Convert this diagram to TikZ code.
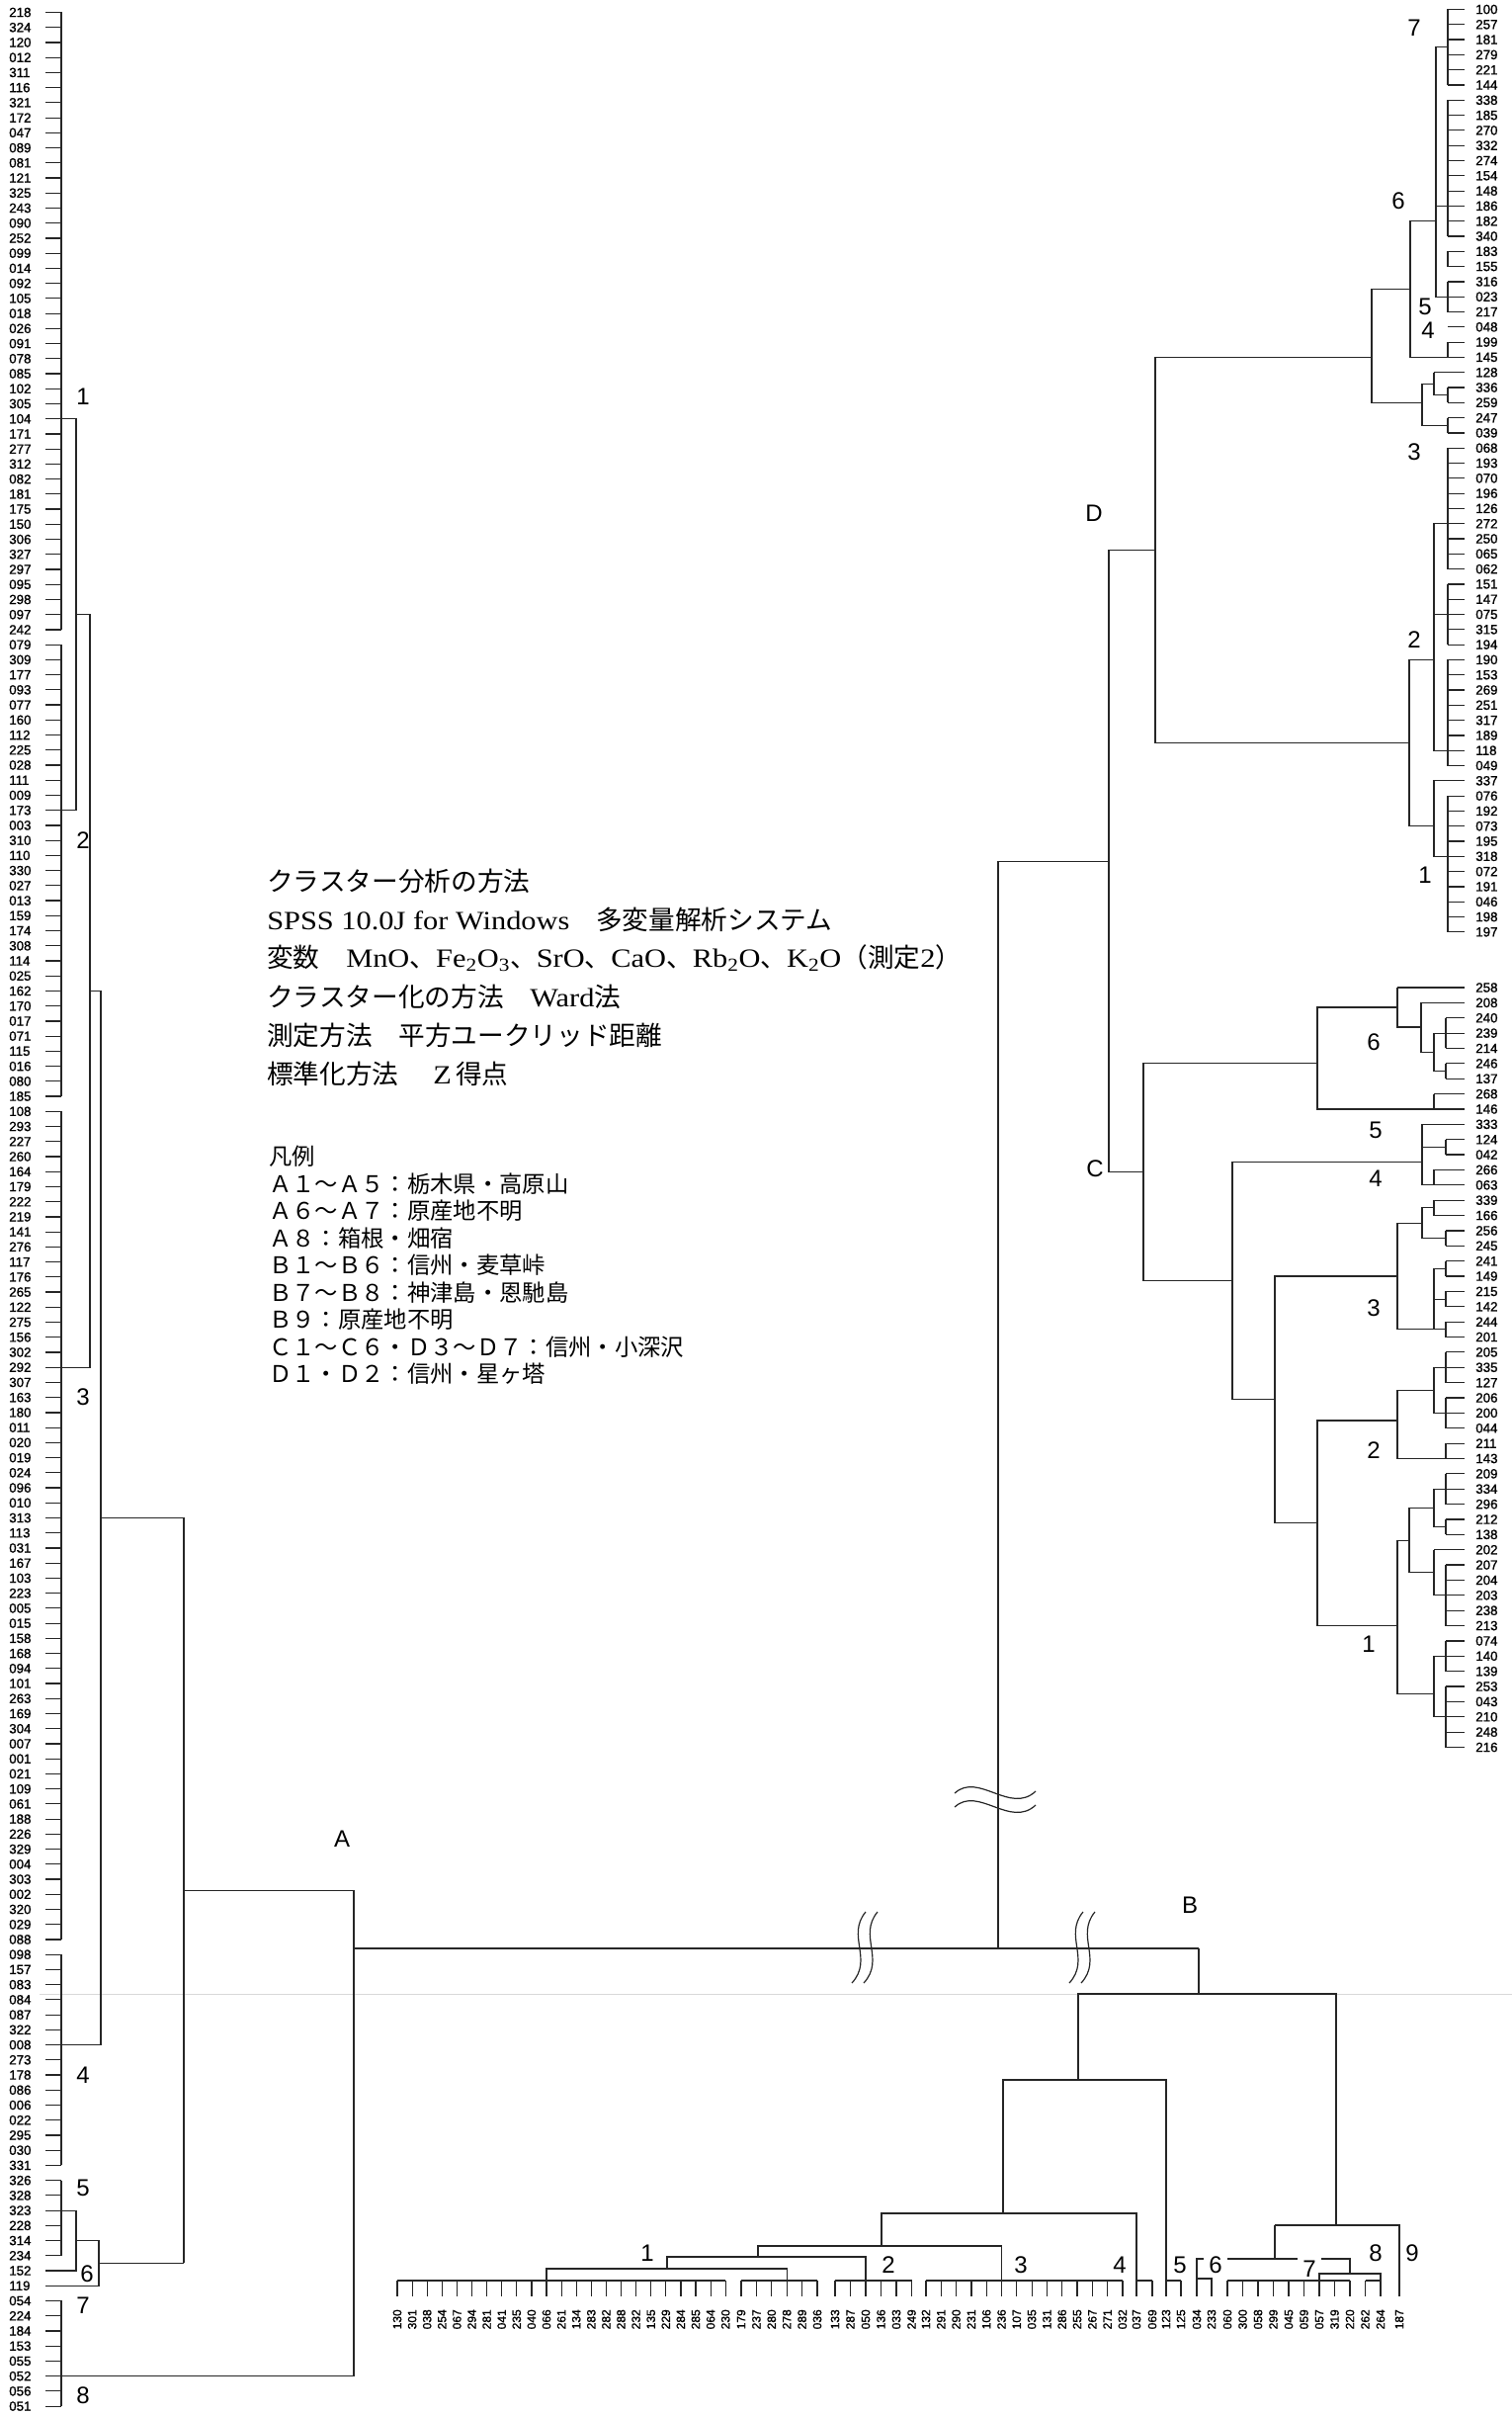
\documentclass[tikz,border=0pt]{standalone}
\usepackage{fontspec}
\setmainfont[FakeStretch=1.14]{Liberation Serif}
\newfontfamily\jp{Noto Sans CJK JP}
\newfontfamily\lsans{Liberation Sans}
\newfontfamily\lsansb[FakeBold=1.2]{Liberation Sans}
\newcommand\botleaves[4]{%
  \foreach \lbl [count=\i from 0] in {#4}{%
    \draw[ln] ({#2+#3*\i},2307) -- ({#2+#3*\i},2323);
    \node[bleaf] (#1\i) at ({#2+#3*\i},2336) {\lbl};
  }}
\begin{document}
\begin{tikzpicture}[x=0.75pt,y=-0.75pt,
  declare function={ly(\r)=12.5+(\r-1)*15.23; dy(\r)=9.5+(\r-1)*15.3; cy(\r)=999+(\r-1)*15.37;},
  ln/.style={line width=0.9pt, black!85},
  leaf/.style={font=\lsansb\fontsize{10}{10}\selectfont, inner sep=0pt, anchor=west},
  bleaf/.style={font=\lsansb\fontsize{9}{9}\selectfont, inner sep=0pt, rotate=90, anchor=east},
  cl/.style={font=\lsans\fontsize{18}{18}\selectfont, inner sep=0pt},
  ttl/.style={font=\fontsize{20}{20}\selectfont, anchor=west, inner sep=0pt},
  lgd/.style={font=\jp\fontsize{17.5}{17.5}\selectfont, anchor=west, inner sep=0pt},
]
\useasboundingbox (0,0) rectangle (1530,2444);
\fill[white] (0,0) rectangle (1530,2444);

% faint fold line
\draw[gray!30, line width=0.6pt] (40,2017) -- (1530,2017);

%================ LEFT COLUMN (A) ================
\foreach \lbl [count=\i] in {218,324,120,012,311,116,321,172,047,089,081,121,325,243,090,252,099,014,092,105,018,026,091,078,085,102,305,104,171,277,312,082,181,175,150,306,327,297,095,298,097,242,079,309,177,093,077,160,112,225,028,111,009,173,003,310,110,330,027,013,159,174,308,114,025,162,170,017,071,115,016,080,185,108,293,227,260,164,179,222,219,141,276,117,176,265,122,275,156,302,292,307,163,180,011,020,019,024,096,010,313,113,031,167,103,223,005,015,158,168,094,101,263,169,304,007,001,021,109,061,188,226,329,004,303,002,320,029,088,098,157,083,084,087,322,008,273,178,086,006,022,295,030,331,326,328,323,228,314,234,152,119,054,224,184,153,055,052,056,051}{
  \node[leaf] (L\i) at (9,{ly(\i)}) {\lbl};
  \draw[ln] (46,{ly(\i)}) -- (62,{ly(\i)});
}
% brackets
\draw[ln] (62,{ly(1)}) -- (62,{ly(42)});
\draw[ln] (62,{ly(43)}) -- (62,{ly(73)});
\draw[ln] (62,{ly(74)}) -- (62,{ly(129)});
\draw[ln] (62,{ly(130)}) -- (62,{ly(144)});
\draw[ln] (62,{ly(145)}) -- (62,{ly(150)});
\draw[ln] (62,{ly(153)}) -- (62,{ly(160)});
% joins
\draw[ln] (62,{ly(28)}) -- (77,{ly(28)}) -- (77,{ly(54)}) -- (62,{ly(54)});
\draw[ln] (77,{ly(41)}) -- (91,{ly(41)}) -- (91,{ly(91)}) -- (62,{ly(91)});
\draw[ln] (91,{ly(66)}) -- (102,{ly(66)}) -- (102,{ly(136)}) -- (62,{ly(136)});
\draw[ln] (102,{ly(101)}) -- (186,{ly(101)}) -- (186,{ly(150.5)});
\draw[ln] (62,{ly(147)}) -- (77,{ly(147)}) -- (77,{ly(151)}) -- (46,{ly(151)});
\draw[ln] (77,{ly(149)}) -- (100,{ly(149)}) -- (100,{ly(152)}) -- (46,{ly(152)});
\draw[ln] (100,{ly(150.5)}) -- (186,{ly(150.5)});
\draw[ln] (186,{ly(125.75)}) -- (358,{ly(125.75)}) -- (358,{ly(158)}) -- (62,{ly(158)});
% cluster labels
\node[cl] (l1) at (84,{ly(26.5)}) {1};
\node[cl] (l2) at (84,{ly(56)}) {2};
\node[cl] (l3) at (84,{ly(93)}) {3};
\node[cl] (l4) at (84,{ly(138)}) {4};
\node[cl] (l5) at (84,{ly(145.5)}) {5};
\node[cl] (l6) at (88,{ly(151.2)}) {6};
\node[cl] (l7) at (84,{ly(153.3)}) {7};
\node[cl] (l8) at (84,{ly(159.3)}) {8};
\node[cl] (cA) at (346,1860) {A};

% main horizontal
\draw[ln] (358,1971) -- (1213,1971);
% breaks
\foreach \bx in {872,1092}{
  \draw[ln] (\bx+4,1934) .. controls (\bx-16,1958) and (\bx+12,1982) .. (\bx-10,2006);
  \draw[ln] (\bx+16,1934) .. controls (\bx-4,1958) and (\bx+24,1982) .. (\bx+2,2006);
}

%================ D / C ================
\draw[ln] (1010,1971) -- (1010,871.5) -- (1122,871.5);
\draw[ln] (966,1814) .. controls (990,1792) and (1022,1836) .. (1048,1812);
\draw[ln] (966,1828) .. controls (990,1806) and (1022,1850) .. (1048,1826);
\draw[ln] (1122,{dy(36.75)}) -- (1122,{cy(13.15)}) -- (1157,{cy(13.15)});
\draw[ln] (1122,{dy(36.75)}) -- (1169,{dy(36.75)});
\node[cl] (cD) at (1107,519) {D};
\node[cl] (cC) at (1108,1182) {C};

% D leaves
\foreach \lbl [count=\i] in {100,257,181,279,221,144,338,185,270,332,274,154,148,186,182,340,183,155,316,023,217,048,199,145,128,336,259,247,039,068,193,070,196,126,272,250,065,062,151,147,075,315,194,190,153,269,251,317,189,118,049,337,076,192,073,195,318,072,191,046,198,197}{
  \node[leaf] (D\i) at (1493,{dy(\i)}) {\lbl};
  \draw[ln] (1465,{dy(\i)}) -- (1482,{dy(\i)});
}
% D upper
\draw[ln] (1465,{dy(1)}) -- (1465,{dy(6)});
\draw[ln] (1465,{dy(7)}) -- (1465,{dy(16)});
\draw[ln] (1465,{dy(17)}) -- (1465,{dy(18)});
\draw[ln] (1465,{dy(19)}) -- (1465,{dy(21)});
\draw[ln] (1465,{dy(23)}) -- (1465,{dy(24)});
\draw[ln] (1465,{dy(3.5)}) -- (1453,{dy(3.5)}) -- (1453,{dy(20)}) -- (1465,{dy(20)});
\draw[ln] (1453,{dy(14)}) -- (1465,{dy(14)});
\draw[ln] (1453,{dy(15)}) -- (1427,{dy(15)}) -- (1427,{dy(24)}) -- (1465,{dy(24)});
\draw[ln] (1427,{dy(19.5)}) -- (1388,{dy(19.5)}) -- (1388,{dy(27)}) -- (1439,{dy(27)});
\draw[ln] (1451,{dy(25)}) -- (1465,{dy(25)});
\draw[ln] (1465,{dy(26)}) -- (1465,{dy(27)});
\draw[ln] (1451,{dy(25)}) -- (1451,{dy(26.5)}) -- (1465,{dy(26.5)});
\draw[ln] (1451,{dy(25.75)}) -- (1439,{dy(25.75)}) -- (1439,{dy(28.5)}) -- (1465,{dy(28.5)});
\draw[ln] (1465,{dy(28)}) -- (1465,{dy(29)});
\draw[ln] (1169,{dy(24)}) -- (1388,{dy(24)});
% D lower
\draw[ln] (1465,{dy(30)}) -- (1465,{dy(38)});
\draw[ln] (1465,{dy(39)}) -- (1465,{dy(43)});
\draw[ln] (1465,{dy(44)}) -- (1465,{dy(51)});
\draw[ln] (1465,{dy(35)}) -- (1451,{dy(35)}) -- (1451,{dy(50)}) -- (1465,{dy(50)});
\draw[ln] (1451,{dy(41)}) -- (1465,{dy(41)});
\draw[ln] (1451,{dy(44)}) -- (1426,{dy(44)}) -- (1426,{dy(55)}) -- (1451,{dy(55)});
\draw[ln] (1465,{dy(53)}) -- (1465,{dy(62)});
\draw[ln] (1465,{dy(52)}) -- (1451,{dy(52)}) -- (1451,{dy(57)}) -- (1465,{dy(57)});
\draw[ln] (1169,{dy(24)}) -- (1169,{dy(49.5)}) -- (1426,{dy(49.5)});
% D labels
\node[cl] (d7) at (1431,28) {7};
\node[cl] (d6) at (1415,203) {6};
\node[cl] (d5) at (1442,310) {5};
\node[cl] (d4) at (1445,334) {4};
\node[cl] (d3) at (1431,457) {3};
\node[cl] (d2) at (1431,647) {2};
\node[cl] (d1) at (1442,885) {1};

% C leaves
\foreach \lbl [count=\i] in {258,208,240,239,214,246,137,268,146,333,124,042,266,063,339,166,256,245,241,149,215,142,244,201,205,335,127,206,200,044,211,143,209,334,296,212,138,202,207,204,203,238,213,074,140,139,253,043,210,248,216}{
  \node[leaf] (C\i) at (1493,{cy(\i)}) {\lbl};
  \draw[ln] (1463,{cy(\i)}) -- (1482,{cy(\i)});
}
% C6
\draw[ln] (1414,{cy(1)}) -- (1463,{cy(1)});
\draw[ln] (1438,{cy(2)}) -- (1463,{cy(2)});
\draw[ln] (1463,{cy(3)}) -- (1463,{cy(5)});
\draw[ln] (1463,{cy(6)}) -- (1463,{cy(7)});
\draw[ln] (1463,{cy(4)}) -- (1451,{cy(4)}) -- (1451,{cy(6.5)}) -- (1463,{cy(6.5)});
\draw[ln] (1451,{cy(5.25)}) -- (1438,{cy(5.25)}) -- (1438,{cy(2)});
\draw[ln] (1438,{cy(3.6)}) -- (1414,{cy(3.6)}) -- (1414,{cy(1)});
\draw[ln] (1414,{cy(2.3)}) -- (1333,{cy(2.3)}) -- (1333,{cy(9)}) -- (1463,{cy(9)});
\draw[ln] (1451,{cy(8)}) -- (1463,{cy(8)});
\draw[ln] (1451,{cy(8)}) -- (1451,{cy(9)});
\draw[ln] (1333,{cy(6)}) -- (1157,{cy(6)}) -- (1157,{cy(20.3)}) -- (1247,{cy(20.3)});
% C4/5
\draw[ln] (1439,{cy(10)}) -- (1463,{cy(10)});
\draw[ln] (1463,{cy(11)}) -- (1463,{cy(12)});
\draw[ln] (1439,{cy(11.5)}) -- (1463,{cy(11.5)});
\draw[ln] (1451,{cy(13)}) -- (1463,{cy(13)});
\draw[ln] (1451,{cy(13)}) -- (1451,{cy(14)}) -- (1463,{cy(14)});
\draw[ln] (1439,{cy(10)}) -- (1439,{cy(14)}) -- (1451,{cy(14)});
\draw[ln] (1439,{cy(12.5)}) -- (1247,{cy(12.5)}) -- (1247,{cy(28.1)}) -- (1290,{cy(28.1)});
% C3
\draw[ln] (1451,{cy(15)}) -- (1463,{cy(15)});
\draw[ln] (1451,{cy(15)}) -- (1451,{cy(16)}) -- (1463,{cy(16)});
\draw[ln] (1463,{cy(17)}) -- (1463,{cy(18)});
\draw[ln] (1451,{cy(15.5)}) -- (1439,{cy(15.5)}) -- (1439,{cy(17.5)}) -- (1463,{cy(17.5)});
\draw[ln] (1439,{cy(16.5)}) -- (1414,{cy(16.5)}) -- (1414,{cy(23.5)});
\draw[ln] (1463,{cy(19)}) -- (1463,{cy(20)});
\draw[ln] (1463,{cy(21)}) -- (1463,{cy(22)});
\draw[ln] (1463,{cy(23)}) -- (1463,{cy(24)});
\draw[ln] (1463,{cy(19.5)}) -- (1451,{cy(19.5)}) -- (1451,{cy(23.5)}) -- (1414,{cy(23.5)});
\draw[ln] (1451,{cy(21.5)}) -- (1463,{cy(21.5)});
\draw[ln] (1451,{cy(23.5)}) -- (1463,{cy(23.5)});
\draw[ln] (1414,{cy(20)}) -- (1290,{cy(20)}) -- (1290,{cy(36.25)}) -- (1333,{cy(36.25)});
% C2
\draw[ln] (1463,{cy(25)}) -- (1463,{cy(27)});
\draw[ln] (1463,{cy(28)}) -- (1463,{cy(30)});
\draw[ln] (1463,{cy(26)}) -- (1451,{cy(26)}) -- (1451,{cy(29)}) -- (1463,{cy(29)});
\draw[ln] (1451,{cy(27.5)}) -- (1414,{cy(27.5)}) -- (1414,{cy(32)}) -- (1463,{cy(32)});
\draw[ln] (1463,{cy(31)}) -- (1463,{cy(32)});
\draw[ln] (1414,{cy(29.5)}) -- (1333,{cy(29.5)}) -- (1333,{cy(43)}) -- (1414,{cy(43)});
% C1
\draw[ln] (1463,{cy(33)}) -- (1463,{cy(35)});
\draw[ln] (1463,{cy(36)}) -- (1463,{cy(37)});
\draw[ln] (1463,{cy(34)}) -- (1451,{cy(34)}) -- (1451,{cy(36.5)}) -- (1463,{cy(36.5)});
\draw[ln] (1451,{cy(38)}) -- (1463,{cy(38)});
\draw[ln] (1463,{cy(39)}) -- (1463,{cy(43)});
\draw[ln] (1451,{cy(38)}) -- (1451,{cy(41)}) -- (1463,{cy(41)});
\draw[ln] (1451,{cy(35.25)}) -- (1426,{cy(35.25)}) -- (1426,{cy(39.5)}) -- (1451,{cy(39.5)});
\draw[ln] (1463,{cy(44)}) -- (1463,{cy(46)});
\draw[ln] (1463,{cy(47)}) -- (1463,{cy(51)});
\draw[ln] (1463,{cy(45)}) -- (1451,{cy(45)}) -- (1451,{cy(49)}) -- (1463,{cy(49)});
\draw[ln] (1426,{cy(37.4)}) -- (1414,{cy(37.4)}) -- (1414,{cy(47.5)}) -- (1451,{cy(47.5)});
% C labels
\node[cl] (c6) at (1390,1054) {6};
\node[cl] (c5) at (1392,1143) {5};
\node[cl] (c4) at (1392,1192) {4};
\node[cl] (c3) at (1390,1323) {3};
\node[cl] (c2) at (1390,1467) {2};
\node[cl] (c1) at (1385,1663) {1};

%================ BOTTOM (B) ================
\botleaves{ba}{402}{15.1}{130,301,038,254,067,294,281,041,235,040,066,261,134,283,282,288,232,135,229,284,285,064,230}
\botleaves{bb}{750}{15.4}{179,237,280,278,289,036}
\botleaves{bc}{845}{15.5}{133,287,050,136,033,249}
\botleaves{bd}{937}{15.3}{132,291,290,231,106,236,107,035,131,286,255,267,271,032}
\botleaves{be}{1150}{16}{037,069}
\botleaves{bf}{1180}{15}{123,125}
\botleaves{bg}{1211}{15}{034,233}
\botleaves{bh}{1242}{15.5}{060,300,058,299,045,059,057,319,220,262,264}
\botleaves{bi}{1416}{15}{187}
\draw[ln] (402,2307) -- (734.2,2307);
\draw[ln] (750,2307) -- (827,2307);
\draw[ln] (845,2307) -- (922.5,2307);
\draw[ln] (937,2307) -- (1135.9,2307);
\draw[ln] (1150,2307) -- (1166,2307);
\draw[ln] (1180,2307) -- (1195,2307);
\draw[ln] (1211,2305) -- (1226,2305) -- (1226,2310);
\draw[ln] (1242,2307) -- (1366,2307);
\draw[ln] (1381.5,2307) -- (1397,2307);
\draw[ln] (553,2307) -- (553,2295) -- (796.2,2295) -- (796.2,2307);
\draw[ln] (675,2295) -- (675,2283) -- (876,2283) -- (876,2307);
\draw[ln] (767,2283) -- (767,2272) -- (1013.5,2272) -- (1013.5,2307);
\draw[ln] (892,2272) -- (892,2239) -- (1150,2239) -- (1150,2307);
\draw[ln] (1015,2239) -- (1015,2104) -- (1180,2104) -- (1180,2307);
\draw[ln] (1091,2104) -- (1091,2017) -- (1352,2017) -- (1352,2251);
\draw[ln] (1213,2017) -- (1213,1971);
\draw[ln] (1290,2251) -- (1416,2251) -- (1416,2323);
\draw[ln] (1290,2251) -- (1290,2285);
\draw[ln] (1211,2323) -- (1211,2285) -- (1218,2285);
\draw[ln] (1242,2285) -- (1313,2285);
\draw[ln] (1337,2285) -- (1366,2285) -- (1366,2300);
\draw[ln] (1335,2307) -- (1335,2300) -- (1397,2300) -- (1397,2307);
\node[cl] (cB) at (1204,1927) {B};
\node[cl] (b1) at (655,2279) {1};
\node[cl] (b2) at (899,2291) {2};
\node[cl] (b3) at (1033,2291) {3};
\node[cl] (b4) at (1133,2291) {4};
\node[cl] (b5) at (1194,2291) {5};
\node[cl] (b6) at (1230,2291) {6};
\node[cl] (b7) at (1325,2295) {7};
\node[cl] (b8) at (1392,2279) {8};
\node[cl] (b9) at (1429,2279) {9};

%================ TEXT ================
\node[ttl] (t1) at (270,891) {\jp クラスター分析の方法};
\node[ttl] (t2) at (270,930) {SPSS 10.0J for Windows\hspace{1em}{\jp 多変量解析システム}};
\node[ttl] (t3) at (270,969) {{\jp 変数}\hspace{1em}MnO{\jp 、}Fe\textsubscript{2}O\textsubscript{3}{\jp 、}SrO{\jp 、}CaO{\jp 、}Rb\textsubscript{2}O{\jp 、}K\textsubscript{2}O{\jp （測定}2{\jp ）}};
\node[ttl] (t4) at (270,1008) {{\jp クラスター化の方法}\hspace{1em}Ward{\jp 法}};
\node[ttl] (t5) at (270,1047) {\jp 測定方法\hspace{1em}平方ユークリッド距離};
\node[ttl] (t6) at (270,1086) {{\jp 標準化方法}\hspace{1.3em}Z\,{\jp 得点}};
\node[lgd] (g0) at (272,1170) {凡例};
\node[lgd] (g1) at (272,1197.5) {Ａ１～Ａ５：栃木県・高原山};
\node[lgd] (g2) at (272,1225) {Ａ６～Ａ７：原産地不明};
\node[lgd] (g3) at (272,1252.5) {Ａ８：箱根・畑宿};
\node[lgd] (g4) at (272,1280) {Ｂ１～Ｂ６：信州・麦草峠};
\node[lgd] (g5) at (272,1307.5) {Ｂ７～Ｂ８：神津島・恩馳島};
\node[lgd] (g6) at (272,1335) {Ｂ９：原産地不明};
\node[lgd] (g7) at (272,1362.5) {Ｃ１～Ｃ６・Ｄ３～Ｄ７：信州・小深沢};
\node[lgd] (g8) at (272,1390) {Ｄ１・Ｄ２：信州・星ヶ塔};
\end{tikzpicture}
\end{document}
